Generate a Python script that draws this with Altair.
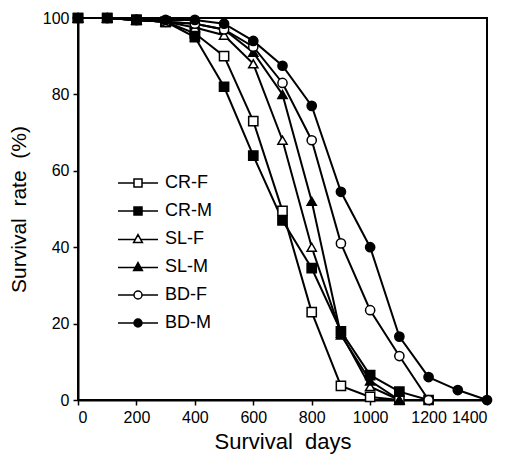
import altair as alt
import pandas as pd

series = ["CR-F", "CR-M", "SL-F", "SL-M", "BD-F", "BD-M"]
days = [0, 100, 200, 300, 400, 500, 600, 700, 800, 900, 1000, 1100, 1200, 1300, 1400]
cr_f = [100, 100, 99.5, 99, 96, 90, 73, 49.5, 23, 3.7, 0.8, 0]
cr_m = [100, 100, 99.5, 99, 95, 82, 64, 47, 34.5, 18, 6.5, 2.2, 0]
sl_f = [100, 100, 99.5, 99, 97.5, 95.5, 88, 68, 40, 17.5, 3.5, 0]
sl_m = [100, 100, 99.5, 99, 98.5, 97, 91, 80, 52, 17, 5, 0]
bd_f = [100, 100, 99.5, 99, 98.5, 97, 92.5, 83, 68, 41, 23.5, 11.5, 0]
bd_m = [100, 100, 99.5, 99.5, 99.5, 98.5, 94, 87.5, 77, 54.5, 40, 16.6, 6, 2.6, 0]
groups = ["CR", "CR", "SL", "SL", "BD", "BD"]

values = [cr_f, cr_m, sl_f, sl_m, bd_f, bd_m]
rows = []
for s, g, vals in zip(series, groups, values):
    for d, v in zip(days, vals):
        rows.append({"series": s, "group": g, "day": d, "rate": v})
df = pd.DataFrame(rows)

fills = ["white", "black", "white", "black", "white", "black"]
strokes = ["black"] * 6
legend_paths = [
    "M-5,0H-1M1,0H5M-1,-1H1V1H-1Z",
    "M-5,0H-1M1,0H5M-1,-1H1V1H-1Z",
    "M-5,0.1H-0.6M0.6,0.1H5M0,-1.1L1.1,0.9H-1.1Z",
    "M-5,0.1H-0.6M0.6,0.1H5M0,-1.1L1.1,0.9H-1.1Z",
    "M-5,0H-1M1,0H5M-1,0A1,1,0,1,0,1,0A1,1,0,1,0,-1,0Z",
    "M-5,0H-1M1,0H5M-1,0A1,1,0,1,0,1,0A1,1,0,1,0,-1,0Z",
]

FONT = "Liberation Sans"

x_enc = alt.X(
    "day:Q",
    scale=alt.Scale(domain=[0, 1400], nice=False),
    axis=alt.Axis(
        title="Survival\u00a0 days",
        values=list(range(0, 1401, 100)),
        labelExpr="datum.value % 200 == 0 ? format(datum.value, 'd') : ''",
        labelOverlap=False,
        grid=False,
        tickSize=5,
        labelPadding=4,
        labelFontSize=16,
        titleFontSize=22,
        titleFontWeight="normal",
        titlePadding=6,
    ),
)
y_enc = alt.Y(
    "rate:Q",
    scale=alt.Scale(domain=[0, 100], nice=False),
    axis=alt.Axis(
        title="Survival\u00a0 rate\u00a0 (%)",
        values=list(range(0, 101, 10)),
        labelExpr="datum.value % 20 == 0 ? format(datum.value, 'd') : ''",
        labelOverlap=False,
        grid=False,
        tickSize=5,
        labelPadding=4,
        labelFontSize=16,
        titleFontSize=21,
        titleFontWeight="normal",
        titlePadding=13,
    ),
)

base = alt.Chart(df)

lines = base.mark_line(color="black", strokeWidth=2).encode(
    x=x_enc, y=y_enc, detail="series:N", order="day:Q"
)


def pts(group, shape):
    return base.transform_filter(alt.datum.group == group).mark_point(
        filled=True, stroke="black", strokeWidth=1.5, size=85, opacity=1, shape=shape
    ).encode(
        x="day:Q",
        y="rate:Q",
        fill=alt.Fill("series:N", scale=alt.Scale(domain=series, range=fills), legend=None),
    )


sq = pts("CR", "square")
tri = pts("SL", "triangle-up")
cir = pts("BD", "circle")

leg = alt.Legend(
    title=None,
    orient="none",
    legendX=51,
    legendY=156,
    labelFont=FONT,
    labelFontSize=18,
    labelOffset=18,
    rowPadding=10,
    symbolSize=64,
    symbolStrokeWidth=1.5,
    padding=0,
)

legend_layer = base.transform_filter("datum.day < 0").mark_point(
    filled=False, strokeWidth=1.5, size=64, opacity=1
).encode(
    x="day:Q",
    y="rate:Q",
    shape=alt.Shape("series:N", scale=alt.Scale(domain=series, range=legend_paths), legend=leg),
    fill=alt.Fill("series:N", scale=alt.Scale(domain=series, range=fills), legend=leg),
    stroke=alt.Stroke("series:N", scale=alt.Scale(domain=series, range=strokes), legend=leg),
)

chart = (
    alt.layer(lines, sq, tri, cir, legend_layer)
    .resolve_scale(shape="independent", fill="independent", stroke="independent")
    .properties(
        width=409,
        height=382,
        autosize=alt.AutoSizeParams(type="none"),
        padding={"left": 70, "top": 10, "right": 11, "bottom": 56},
    )
    .configure_view(stroke="black", strokeWidth=2)
    .configure_axis(
        domainColor="black",
        domainWidth=2,
        tickColor="black",
        tickWidth=1.5,
        labelColor="black",
        titleColor="black",
        labelFont=FONT,
        titleFont=FONT,
    )
)

chart.save("out.html", embed_options={"renderer": "svg", "actions": False})
